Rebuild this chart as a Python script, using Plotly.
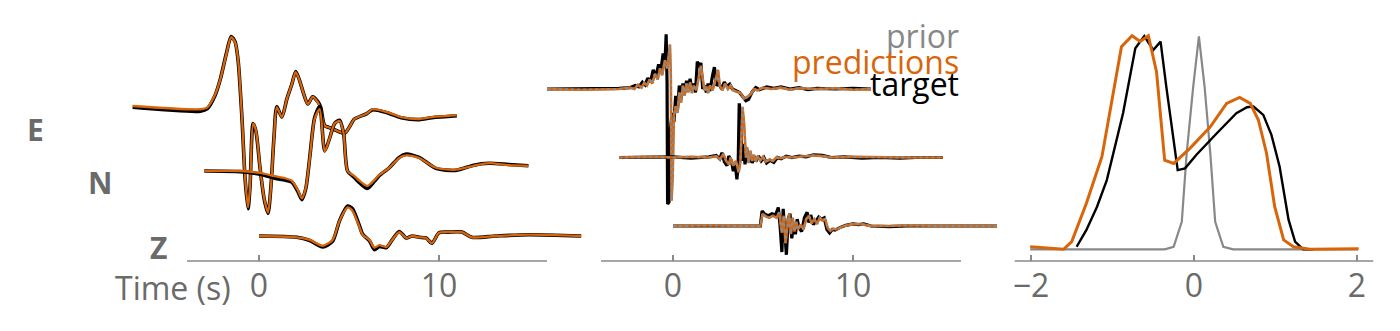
import plotly.graph_objects as go

# ===================== DATA =====================
# Left panel: smooth waveform fit (time in s on the panel's time axis, amplitude normalised)
L_E_t      = [-7.02,-3.26,-2.87,-2.43,-2.15,-1.82,-1.55,-1.33,-1.16,-0.94,-0.77,-0.61,-0.50,-0.33,-0.17,0.06,0.28,0.50,0.66,0.83,0.99,1.27,1.55,1.82,2.04,2.27,2.49,2.71,2.98,3.26,3.43,3.65,4.09,4.75,5.03,5.30,5.97,6.30,7.07,7.90,8.90,9.61,10.99]
L_E_pred   = [0,-0.05,-0.02,0.18,0.41,0.79,1.06,0.98,0.71,-0.20,-1.11,-1.56,-1.26,-0.27,-0.38,-0.95,-1.41,-1.64,-1.26,-0.50,-0.02,-0.17,0.11,0.33,0.52,0.38,0.18,0.03,0.14,0.06,-0.05,-0.30,-0.35,-0.42,-0.32,-0.20,-0.12,-0.05,-0.09,-0.17,-0.20,-0.17,-0.14]
L_E_target = [-0.02,-0.08,-0.04,0.17,0.41,0.80,1.07,0.99,0.70,-0.22,-1.13,-1.58,-1.25,-0.27,-0.39,-0.96,-1.42,-1.65,-1.25,-0.49,-0.01,-0.17,0.11,0.33,0.53,0.38,0.18,0.03,0.14,0.07,-0.02,-0.30,-0.35,-0.42,-0.32,-0.20,-0.12,-0.06,-0.10,-0.18,-0.21,-0.18,-0.15]

L_N_t      = [-3.04,-1.05,0.06,0.88,1.44,1.82,2.15,2.38,2.60,2.82,3.09,3.37,3.65,3.92,4.20,4.48,4.70,4.92,5.30,5.58,6.02,6.41,6.69,7.24,7.79,8.18,8.90,9.83,10.94,11.93,12.76,13.87,14.97]
L_N_pred   = [0,0,-0.03,-0.08,-0.11,-0.15,-0.29,-0.42,-0.26,0.20,0.80,0.95,0.30,0.50,0.73,0.77,0.58,0,-0.08,-0.15,-0.23,-0.14,-0.06,0.05,0.20,0.24,0.20,0.05,0.02,0.08,0.12,0.09,0.08]
L_N_target = [0,-0.01,-0.05,-0.11,-0.14,-0.17,-0.31,-0.44,-0.27,0.21,0.82,0.99,0.31,0.50,0.73,0.78,0.58,0.0,-0.10,-0.18,-0.27,-0.16,-0.07,0.05,0.21,0.26,0.21,0.04,0.01,0.09,0.12,0.10,0.08]

L_Z_t      = [0.0,2.10,2.82,3.54,4.09,4.48,4.92,5.19,5.58,5.75,6.13,6.41,6.69,7.07,7.40,7.79,8.18,8.51,8.90,9.28,9.61,10.00,10.55,11.27,11.82,13.15,14.97,17.90]
L_Z_pred   = [0,-0.02,-0.06,-0.15,-0.06,0.24,0.44,0.39,0.14,0.02,-0.06,-0.18,-0.14,-0.17,-0.06,0.06,-0.03,0,-0.02,-0.03,-0.11,0.05,0.06,0.06,-0.02,0,0.02,0]
L_Z_target = [0,-0.02,-0.07,-0.17,-0.08,0.24,0.46,0.42,0.16,0.03,-0.07,-0.21,-0.16,-0.18,-0.06,0.07,-0.03,0,-0.02,-0.03,-0.11,0.05,0.06,0.06,-0.02,0,0.02,0]

# Middle panel: jagged waveform fit
M_E_target_t = [-7.0,-5.0,-3.0,-2.4,-2.1,-1.9,-1.7,-1.55,-1.4,-1.25,-1.1,-0.95,-0.8,-0.68,-0.55,-0.45,-0.38,-0.33,-0.30,-0.22,-0.15,-0.05,0.05,0.15,0.25,0.35,0.45,0.55,0.65,0.75,0.85,0.95,1.05,1.15,1.25,1.35,1.45,1.55,1.65,1.75,1.85,1.95,2.05,2.2,2.3,2.42,2.55,2.7,2.85,3.0,3.15,3.3,3.5,3.7,3.9,4.05,4.2,4.4,4.6,4.8,5.2,5.6,6.0,6.5,7.0,7.5,8.0,9.0,10.0,11.0]
M_E_target   = [0,0,0.01,0.02,0.05,0.03,0.10,0.06,0.16,0.10,0.28,0.18,0.36,0.25,0.52,0.35,0.80,0.10,-1.68,-1.65,-0.6,-0.35,-0.48,-0.1,-0.3,0.05,-0.15,0.08,-0.05,0.12,0.0,0.15,-0.02,0.08,-0.05,0.40,0.32,0.38,0.0,0.05,-0.05,0.08,-0.03,0.20,0.32,0.05,0.08,0.0,0.10,0.04,0.07,0.0,-0.03,-0.05,-0.12,-0.17,-0.15,-0.04,0.02,-0.01,0.03,0.01,0.03,0.0,0.02,-0.01,0.01,0.0,0.01,0.0]
M_E_pred_t   = [-7.0,-5.0,-3.0,-2.4,-2.15,-1.95,-1.75,-1.6,-1.45,-1.3,-1.15,-1.0,-0.85,-0.72,-0.6,-0.45,-0.32,-0.17,-0.12,-0.08,-0.02,0.05,0.15,0.25,0.35,0.45,0.55,0.65,0.75,0.85,0.95,1.05,1.15,1.3,1.45,1.55,1.65,1.75,1.85,1.95,2.05,2.2,2.35,2.5,2.6,2.75,2.9,3.05,3.2,3.35,3.55,3.75,3.95,4.1,4.3,4.5,4.7,5.0,5.5,6.0,6.5,7.0,8.0,9.0,10.0,11.0]
M_E_pred     = [0,-0.01,0.0,0.02,0.0,0.06,0.02,0.09,0.05,0.14,0.08,0.22,0.14,0.30,0.2,0.42,0.3,0.65,0.2,-1.63,-1.3,-0.4,-0.25,-0.35,-0.05,-0.2,0.05,-0.1,0.08,-0.05,0.1,-0.06,0.05,-0.02,0.2,0.34,0.15,-0.02,0.04,-0.06,0.05,-0.02,0.12,0.28,0.05,-0.02,0.08,0.0,0.05,-0.02,-0.04,-0.06,-0.14,-0.12,-0.08,0.0,-0.02,0.02,0.0,0.02,-0.01,0.01,0.0,0.01,-0.01,0.0]

M_N_target_t = [-3.0,-1.0,0.0,1.0,2.0,2.4,2.6,2.72,2.85,3.0,3.1,3.25,3.35,3.45,3.55,3.62,3.68,3.76,3.82,3.9,4.0,4.1,4.2,4.3,4.4,4.5,4.6,4.75,4.9,5.05,5.2,5.4,5.6,5.8,6.0,6.3,6.6,7.0,7.4,7.8,8.3,8.8,9.5,10.5,11.5,12.6,13.5,15.0]
M_N_target   = [0,0.0,0.01,-0.01,0.01,0.03,-0.02,0.07,-0.06,-0.12,0.02,-0.05,-0.2,-0.08,-0.32,-0.1,0.79,0.6,-0.05,0.2,-0.1,0.12,-0.07,0.05,-0.08,0.02,-0.06,0.02,-0.05,0.0,-0.08,-0.04,-0.07,0.0,-0.02,0.02,0.0,0.02,0.01,0.04,0.03,0.0,0.01,-0.01,0.0,-0.01,0.0,0.0]
M_N_pred_t   = [-3.0,-1.0,0.0,1.0,2.0,2.4,2.6,2.8,2.95,3.1,3.2,3.35,3.5,3.65,3.75,3.86,3.95,4.05,4.12,4.2,4.3,4.4,4.5,4.6,4.7,4.85,5.0,5.15,5.35,5.55,5.75,6.0,6.3,6.6,7.0,7.8,8.3,8.8,10.0,11.5,13.0,15.0]
M_N_pred     = [0,0.01,0.0,0.01,0.0,0.02,-0.03,0.05,-0.05,-0.1,0.0,-0.12,-0.05,-0.22,-0.05,0.74,0.5,0.0,0.15,-0.08,0.1,-0.05,0.04,-0.06,0.02,-0.04,0.01,-0.06,-0.03,-0.05,0.0,-0.01,0.01,0.0,0.01,0.03,0.02,0.0,0.01,0.0,0.0,0.0]

M_Z_target_t = [0.0,2.0,4.0,4.85,4.95,5.1,5.3,5.5,5.7,5.85,5.95,6.05,6.12,6.2,6.3,6.4,6.5,6.6,6.7,6.8,6.9,7.0,7.15,7.3,7.45,7.55,7.65,7.8,7.95,8.1,8.25,8.4,8.55,8.7,8.85,9.0,9.3,9.6,10.0,10.3,10.6,11.0,12.0,13.0,15.0,18.0]
M_Z_target   = [0,0.0,0.0,0.0,0.22,0.17,0.15,0.18,0.16,0.27,0.0,-0.38,0.25,-0.1,-0.42,0.1,0.18,-0.18,0.05,-0.12,0.1,-0.03,-0.08,0.12,0.2,0.05,0.16,0.02,0.08,0.13,0.1,0.12,-0.05,-0.1,-0.05,-0.06,-0.02,0.01,0.03,0.02,0.03,0.0,-0.01,0.0,0.0,0.0]
M_Z_pred_t   = [0.0,2.0,4.0,4.85,4.98,5.15,5.35,5.55,5.75,5.9,6.05,6.15,6.25,6.35,6.45,6.55,6.65,6.75,6.85,6.95,7.1,7.25,7.4,7.55,7.7,7.85,8.0,8.15,8.3,8.45,8.6,8.75,8.9,9.1,9.4,9.8,10.2,10.6,11.0,12.0,13.0,15.0,18.0]
M_Z_pred     = [0,0.01,0.0,0.0,0.18,0.14,0.12,0.15,0.12,0.2,-0.1,0.15,-0.25,-0.05,0.18,-0.12,0.12,-0.08,0.06,-0.05,0.02,-0.05,0.1,0.15,0.04,0.1,0.03,0.12,0.08,0.1,-0.03,-0.07,-0.04,-0.05,-0.01,0.02,0.03,0.02,0.0,0.0,0.01,0.0,0.0]

# Right panel: distributions
R_prior_x  = [-2.01,-0.36,-0.25,-0.15,-0.09,-0.01,0.06,0.13,0.20,0.26,0.36,0.48,2.01]
R_prior_y  = [0,0,0.012,0.129,0.45,0.763,1.0,0.763,0.45,0.129,0.012,0,0]
R_pred_x   = [-2.01,-1.81,-1.60,-1.50,-1.32,-1.13,-0.89,-0.76,-0.66,-0.56,-0.46,-0.36,-0.25,-0.05,0.20,0.40,0.56,0.69,0.79,0.89,0.99,1.10,1.22,1.42,2.02]
R_pred_y   = [0.012,0.005,0.0,0.036,0.216,0.435,0.951,1.003,0.976,1.003,0.834,0.418,0.403,0.474,0.575,0.685,0.713,0.685,0.607,0.451,0.2,0.044,0.012,0.0,0.003]
R_target_x = [-1.44,-1.32,-1.19,-1.07,-0.97,-0.87,-0.72,-0.61,-0.50,-0.41,-0.34,-0.25,-0.20,-0.11,0.03,0.28,0.52,0.65,0.73,0.85,0.95,1.05,1.16,1.24,1.34,1.46]
R_target_y = [0.012,0.091,0.2,0.325,0.482,0.640,0.944,1.001,0.936,0.975,0.764,0.499,0.372,0.380,0.444,0.545,0.639,0.667,0.670,0.631,0.537,0.389,0.139,0.036,0.0,0.0]

COMPONENTS = ["E", "N", "Z"]
TIME_TICKS = [0, 10]
DIST_TICKS = [-2, 0, 2]
LEGEND_LABELS = ["prior", "predictions", "target"]

# ===================== STYLE / LAYOUT =====================
W, H = 1400, 331
ORANGE = "#d9650b"
GRAY = "#888888"
TEXT = "#6a6a6a"
FONT = "Open Sans"
FS = 32
OFFSET = {"E": 2, "N": 1, "Z": 0}
AX_BOTTOM_PX = 261

PANELS = {
    "x":  dict(dom=(100, 610),  zero=259,  scale=18.0, axis=(-4, 16),    ticks=TIME_TICKS),
    "x2": dict(dom=(530, 1010), zero=673,  scale=18.0, axis=(-4, 16),    ticks=TIME_TICKS),
    "x3": dict(dom=(1000, 1400), zero=1194, scale=81.5, axis=(-2.2, 2.2), ticks=DIST_TICKS),
}
YPAN = {"y": dict(base=236, unit=65.0), "y2": dict(base=226, unit=68.5), "y3": dict(base=249.3, unit=213.0)}

fig = go.Figure()

def add(x, y, xa, ya, color, width, shape="linear", dash="solid"):
    fig.add_trace(go.Scatter(x=x, y=y, xaxis=xa, yaxis=ya, mode="lines",
                             line=dict(color=color, width=width, shape=shape, dash=dash,
                                       smoothing=0.7 if shape == "spline" else None),
                             hoverinfo="skip", showlegend=False))

left = {"E": (L_E_t, L_E_target, L_E_pred), "N": (L_N_t, L_N_target, L_N_pred), "Z": (L_Z_t, L_Z_target, L_Z_pred)}
for c in COMPONENTS:
    t, tg, pr = left[c]
    add(t, [v + OFFSET[c] for v in tg], "x", "y", "black", 3.6, "spline")
    add(t, [v + OFFSET[c] for v in pr], "x", "y", ORANGE, 2.3, "spline")

mid = {"E": (M_E_target_t, M_E_target, M_E_pred_t, M_E_pred),
       "N": (M_N_target_t, M_N_target, M_N_pred_t, M_N_pred),
       "Z": (M_Z_target_t, M_Z_target, M_Z_pred_t, M_Z_pred)}
for c in COMPONENTS:
    tt, tg, pt, pr = mid[c]
    add(tt, [v + OFFSET[c] for v in tg], "x2", "y2", "black", 3.2)
    add(pt, [v + OFFSET[c] for v in pr], "x2", "y2", ORANGE, 2.6)
    add(pt, [v + OFFSET[c] for v in pr], "x2", "y2", "rgba(140,140,140,0.9)", 2.2, dash="dot")

add(R_prior_x, R_prior_y, "x3", "y3", GRAY, 2.2)
add(R_target_x, R_target_y, "x3", "y3", "black", 2.4)
add(R_pred_x, R_pred_y, "x3", "y3", ORANGE, 3.0)

ydom0 = (H - AX_BOTTOM_PX) / H
layout = dict(width=W, height=H, margin=dict(l=0, r=0, t=0, b=0),
              paper_bgcolor="white", plot_bgcolor="rgba(0,0,0,0)",
              showlegend=False, hovermode=False, font=dict(family=FONT, color=TEXT))
shapes = []
for (xk, p), (yk, q) in zip(PANELS.items(), YPAN.items()):
    d0, d1 = p["dom"]
    xr = [(d0 - p["zero"]) / p["scale"], (d1 - p["zero"]) / p["scale"]]
    yr = [-(AX_BOTTOM_PX - q["base"]) / q["unit"], q["base"] / q["unit"]]
    xname = "xaxis" + xk[1:]
    yname = "yaxis" + yk[1:]
    layout[xname] = dict(domain=[d0 / W, d1 / W], range=xr, anchor=yk, tickvals=p["ticks"],
                         ticks="inside", ticklen=6, tickwidth=1.5, tickcolor=GRAY,
                         showline=False, showgrid=False, zeroline=False,
                         tickfont=dict(size=FS, color=TEXT, family=FONT), ticklabelstandoff=3)
    layout[yname] = dict(domain=[ydom0, 1], range=yr, anchor=xk, visible=False)
    shapes.append(dict(type="line", xref=xk, yref=yk + " domain", x0=p["axis"][0], x1=p["axis"][1],
                       y0=0, y1=0, line=dict(color=GRAY, width=1.5)))
layout["shapes"] = shapes

ann = []
ann.append(dict(text="Time (s)", xref="paper", yref="paper", x=233 / W, y=(H - 287) / H,
                xanchor="right", yanchor="middle", showarrow=False, font=dict(size=FS, color=TEXT)))
for c, (px, py) in zip(COMPONENTS, [(35, 130), (100, 182), (158, 247)]):
    ann.append(dict(text="<b>%s</b>" % c, xref="paper", yref="paper", x=px / W, y=(H - py) / H,
                    xanchor="center", yanchor="middle", showarrow=False, font=dict(size=FS - 2, color=TEXT)))
for lab, col, py in zip(LEGEND_LABELS, [GRAY, ORANGE, "black"], [36, 61, 83]):
    ann.append(dict(text=lab, xref="paper", yref="paper", x=961 / W, y=(H - py) / H,
                    xanchor="right", yanchor="middle", showarrow=False, font=dict(size=FS, color=col)))
layout["annotations"] = ann

fig.update_layout(**layout)
fig.write_html("out.html")
